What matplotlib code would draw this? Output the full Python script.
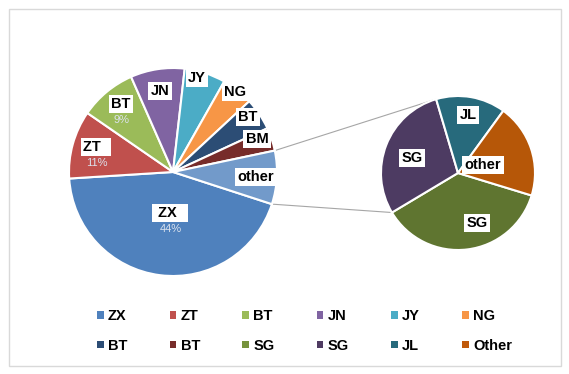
import numpy as np
import matplotlib.pyplot as plt
from matplotlib.patches import Rectangle

plt.rcParams['font.family'] = ['Liberation Sans', 'DejaVu Sans']

# main pie
main_labels = ['ZX', 'ZT', 'BT', 'JN', 'JY', 'NG', 'BT', 'BM', 'other']
main_values = [44, 10.6, 8.8, 8.4, 6.4, 4.9, 5.0, 3.6, 8.3]
main_pct = ['44%', '11%', '9%', '', '', '', '', '', '']
main_colors = ['#4F81BD', '#C0504D', '#9BBB59', '#8064A2', '#4BACC6',
               '#F79646', '#2C4D75', '#772C2A', '#729ACA']

# secondary pie (breakdown of "other")
sub_labels = ['SG', 'SG', 'JL', 'other']
sub_values = [36.7, 29.0, 14.6, 19.7]
sub_colors = ['#5F7530', '#4D3B62', '#276A7C', '#B65708']

legend_labels = ['ZX', 'ZT', 'BT', 'JN', 'JY', 'NG',
                 'BT', 'BT', 'SG', 'SG', 'JL', 'Other']
legend_colors = main_colors[:8] + ['#77933C', '#4F3B62', '#276A7C', '#C0590A']

W, H = 569, 374
fig = plt.figure(figsize=(W / 100, H / 100), dpi=100)
ax = fig.add_axes([0, 0, 1, 1])

fig.patches.append(Rectangle((9 / W, 8 / H), 552 / W, 357 / H, transform=fig.transFigure,
                             fill=False, edgecolor='#D9D9D9', linewidth=1))

c1, r1 = (173, H - 172), 104
c2, r2 = (458, H - 173), 77

w1, _ = ax.pie(main_values, colors=main_colors, startangle=-18, counterclock=False,
               center=c1, radius=r1, frame=True,
               wedgeprops=dict(edgecolor='white', linewidth=1.5))
w2, _ = ax.pie(sub_values, colors=sub_colors, startangle=-17, counterclock=False,
               center=c2, radius=r2, frame=True,
               wedgeprops=dict(edgecolor='white', linewidth=1.5))
ax.set_xlim(0, W)
ax.set_ylim(0, H)
ax.set_aspect('equal')
ax.axis('off')

# connector lines from "other" slice to secondary pie
def pt(c, r, a):
    return c[0] + r * np.cos(np.radians(a)), c[1] + r * np.sin(np.radians(a))

other = w1[-1]
top_a = max(other.theta1, other.theta2)
bot_a = min(other.theta1, other.theta2)
purple = w2[1]
p_top = pt(c2, r2, min(purple.theta1, purple.theta2))
p_bot = pt(c2, r2, max(purple.theta1, purple.theta2))
for a, q in [(top_a, p_top), (bot_a, p_bot)]:
    p = pt(c1, r1, a)
    ax.plot([p[0], q[0]], [p[1], q[1]], color='#A6A6A6', linewidth=0.8, zorder=0)

# data labels
main_pos = [(170, 213), (96, 147), (121, 104), (160, 91), (197, 78),
            (235, 92), (248, 117), (257, 139), (256, 177)]
main_text = [' ZX  ', 'ZT  ', 'BT', 'JN', 'JY', 'NG', 'BT', 'BM', 'other']
box = dict(facecolor='white', edgecolor='none', pad=1.8)
for lab, (x, y), pct in zip(main_text, main_pos, main_pct):
    ax.text(x, H - y, lab, ha='center', va='center', fontsize=10.5,
            fontweight='bold', bbox=box, zorder=5)
    if pct:
        ax.text(x + 1, H - y - 16, pct, ha='center', va='center', fontsize=8,
                color='#DCE3EE', zorder=5)

sub_pos = [(477, 223), (412, 158), (468, 115), (483, 165)]
for lab, (x, y) in zip(sub_labels, sub_pos):
    ax.text(x, H - y, lab, ha='center', va='center', fontsize=10.5,
            fontweight='bold', bbox=box, zorder=5)

# legend, filled row by row
handles = [Rectangle((0, 0), 1, 1, facecolor=c, edgecolor='none') for c in legend_colors]
order = [i + 6 * j for i in range(6) for j in range(2)]
fig.legend([handles[k] for k in order], [legend_labels[k] for k in order],
           ncol=6, loc='center', bbox_to_anchor=((W / 2 + 20) / W, 1 - 331 / H),
           frameon=False, prop=dict(size=10.5, weight='bold'),
           handlelength=0.45, handleheight=0.45, handletextpad=0.3,
           columnspacing=2.9, labelspacing=1.05)

fig.savefig('out.png', dpi=100)
